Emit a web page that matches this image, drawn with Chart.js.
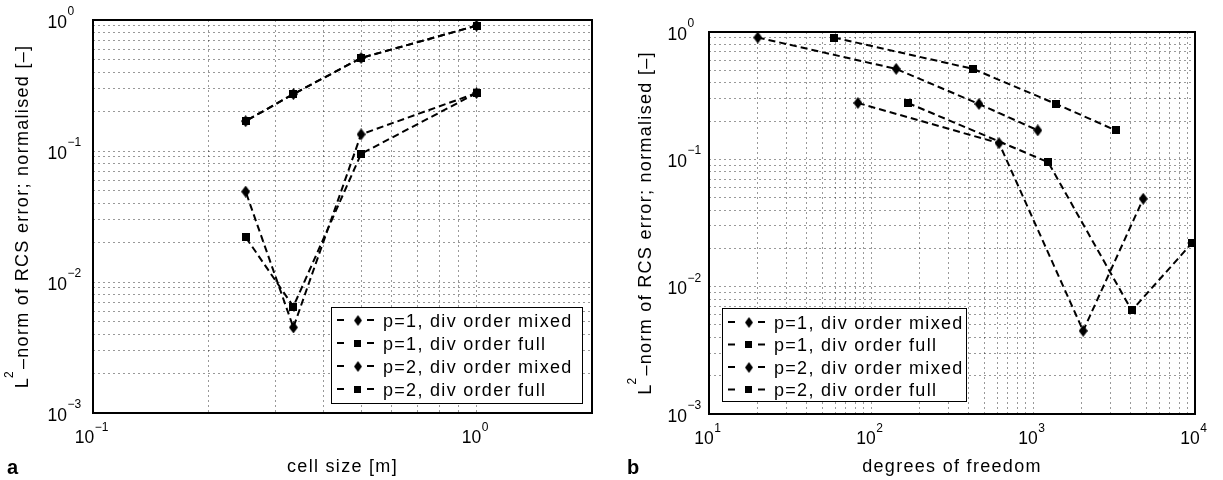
<!DOCTYPE html>
<html>
<head>
<meta charset="utf-8">
<script src="https://cdn.jsdelivr.net/npm/chart.js@4.4.1/dist/chart.umd.min.js"></script>
<style>
  html, body { margin: 0; padding: 0; background: #fff; }
  #wrap { position: relative; width: 1223px; height: 480px; overflow: hidden; }
  canvas { position: absolute; top: 0; }
  #cA { left: 0; }
  #cB { left: 611px; }
</style>
</head>
<body>
<div id="wrap">
  <canvas id="cA" width="611" height="480"></canvas>
  <canvas id="cB" width="612" height="480"></canvas>
</div>
<script>
// ---------------- data ----------------
const seriesLabels = ['p=1, div order mixed', 'p=1, div order full', 'p=2, div order mixed', 'p=2, div order full'];
const cellSize   = [1, 0.5, 0.333, 0.25];
const errP1Mixed = [0.905, 0.513, 0.272, 0.169];
const errP1Full  = [0.905, 0.513, 0.272, 0.169];
const errP2Mixed = [0.277, 0.134, 0.0045, 0.049];
const errP2Full  = [0.277, 0.095, 0.0065, 0.022];
const dofP1Mixed = [20, 143, 464, 1070];
const dofP1Full  = [59, 427, 1390, 3240];
const dofP2Mixed = [83, 617, 2040, 4790];
const dofP2Full  = [169, 1240, 4070, 9580];

const yTicks        = [0.001, 0.01, 0.1, 1];
const yTickExp      = ['\u22123', '\u22122', '\u22121', '0'];
const leftXTicks    = [0.1, 1];
const leftXTickExp  = ['\u22121', '0'];
const rightXTicks   = [10, 100, 1000, 10000];
const rightXTickExp = ['1', '2', '3', '4'];

const leftXTitle  = 'cell size [m]';
const rightXTitle = 'degrees of freedom';
const yTitleParts = ['L', '2', '\u2013norm of RCS error; normalised [\u2013]'];
const panelLetters = ['a', 'b'];

// ---------------- styling helpers ----------------
const FONT = "'Liberation Sans', Arial, Helvetica, sans-serif";
const GRID = 'rgba(0,0,0,0.40)';

function makeMarker(kind, w, h) {
  const c = document.createElement('canvas');
  c.width = w; c.height = h;
  const g = c.getContext('2d');
  g.fillStyle = '#000';
  g.beginPath();
  if (kind === 'diamond') {
    g.moveTo(w / 2, 0); g.lineTo(w, h / 2); g.lineTo(w / 2, h); g.lineTo(0, h / 2);
  } else {
    g.rect(0, 0, w, h);
  }
  g.closePath(); g.fill();
  return c;
}
const diamond = makeMarker('diamond', 9, 12);
const square  = makeMarker('square', 8, 8);
const markers = [diamond, square, diamond, square];

function gridValues(minExp, maxExp) {
  const out = [];
  for (let e = minExp; e < maxExp; e++) {
    for (let s = 1; s <= 9; s++) out.push(s * Math.pow(10, e));
  }
  out.push(Math.pow(10, maxExp));
  return out;
}

function setSpacing(ctx, v) { try { ctx.letterSpacing = v; } catch (e) {} }

// draws "10" with a superscript exponent; align: 'base-right' (x = right edge of "10") or 'center'
function drawPow(ctx, exp, x, yBase, yExp, align) {
  ctx.font = '17.5px ' + FONT;
  const wb = ctx.measureText('10').width;
  ctx.font = '12px ' + FONT;
  const we = ctx.measureText(exp).width;
  const total = wb + we + 0.5;
  const x0 = align === 'base-right' ? x - wb : x - total / 2;
  ctx.textAlign = 'left'; ctx.textBaseline = 'alphabetic';
  ctx.font = '17.5px ' + FONT;
  ctx.fillText('10', x0, yBase);
  ctx.font = '12px ' + FONT;
  ctx.fillText(exp, x0 + wb + 0.5, yExp);
}

function makeDatasets(xsList, ysList) {
  return seriesLabels.map((lab, i) => ({
    label: lab,
    data: xsList[i].map((x, k) => ({ x: x, y: ysList[i][k] })),
    borderColor: '#000',
    backgroundColor: '#000',
    borderWidth: 2,
    borderDash: [7, 4],
    pointStyle: markers[i],
    pointRadius: 6,
    pointHoverRadius: 6,
    showLine: true,
    fill: false,
    tension: 0,
    clip: 10
  }));
}

function decoPlugin(cfg) {
  return {
    id: 'deco',
    afterDraw(chart) {
      const ctx = chart.ctx;
      const a = chart.chartArea;
      const xs = chart.scales.x, ys = chart.scales.y;
      ctx.save();
      // frame
      ctx.setLineDash([]);
      ctx.strokeStyle = '#000'; ctx.lineWidth = 2;
      ctx.strokeRect(a.left, a.top, a.right - a.left, a.bottom - a.top);
      ctx.fillStyle = '#000';
      // y tick labels
      setSpacing(ctx, '0px');
      yTicks.forEach((v, i) => {
        const py = ys.getPixelForValue(v);
        drawPow(ctx, yTickExp[i], a.left - cfg.yTickGap, py + 7.5, py - 5, 'base-right');
      });
      // x tick labels
      cfg.xTicks.forEach((v, i) => {
        const px = xs.getPixelForValue(v);
        drawPow(ctx, cfg.xTickExp[i], px - 1.5, a.bottom + 30, a.bottom + 18, 'center');
      });
      // x title
      setSpacing(ctx, '1.3px');
      ctx.font = '18px ' + FONT;
      ctx.textAlign = 'center'; ctx.textBaseline = 'alphabetic';
      ctx.fillText(cfg.xTitle, (a.left + a.right) / 2, 472);
      // y title (rotated, with superscript)
      ctx.save();
      ctx.translate(cfg.yTitleX, (a.top + a.bottom) / 2);
      ctx.rotate(-Math.PI / 2);
      ctx.textAlign = 'left';
      ctx.font = '18px ' + FONT;
      const wL = ctx.measureText(yTitleParts[0]).width;
      const wR = ctx.measureText(yTitleParts[2]).width;
      ctx.font = '12px ' + FONT;
      const w2 = ctx.measureText(yTitleParts[1]).width;
      const tot = wL + w2 + wR;
      let x0 = -tot / 2;
      ctx.font = '18px ' + FONT;
      ctx.fillText(yTitleParts[0], x0, 0);
      ctx.font = '12px ' + FONT;
      ctx.fillText(yTitleParts[1], x0 + wL - 1, -15);
      ctx.font = '18px ' + FONT;
      ctx.fillText(yTitleParts[2], x0 + wL + w2, 0);
      ctx.restore();
      // panel letter
      setSpacing(ctx, '0px');
      ctx.font = 'bold 20px ' + FONT;
      ctx.textAlign = 'left';
      ctx.fillText(cfg.letter, cfg.letterX, 474);
      // legend
      const b = cfg.legend;
      ctx.fillStyle = '#fff';
      ctx.fillRect(b.x, b.y, b.w, b.h);
      ctx.strokeStyle = '#000'; ctx.lineWidth = 1;
      ctx.strokeRect(b.x + 0.5, b.y + 0.5, b.w, b.h);
      chart.data.datasets.forEach((ds, i) => {
        const cy = b.y + b.rowStart + i * b.rowGap;
        ctx.strokeStyle = '#000'; ctx.lineWidth = 2;
        ctx.beginPath();
        ctx.moveTo(b.x + 6, cy); ctx.lineTo(b.x + 13, cy);
        ctx.moveTo(b.x + 36, cy); ctx.lineTo(b.x + 43, cy);
        ctx.stroke();
        const img = ds.pointStyle;
        const mw = img === diamond ? 8 : 7, mh = img === diamond ? 11 : 7;
        ctx.drawImage(img, Math.round(b.x + 26.5 - mw / 2), Math.round(cy - mh / 2), mw, mh);
        ctx.fillStyle = '#000';
        setSpacing(ctx, '1.3px');
        ctx.font = '18px ' + FONT;
        ctx.textAlign = 'left'; ctx.textBaseline = 'alphabetic';
        ctx.fillText(ds.label, b.x + 52, cy + 6.5);
      });
      ctx.restore();
    }
  };
}

function buildChart(id, cfg) {
  const gx = cfg.gridX, gy = gridValues(-3, 0);
  return new Chart(document.getElementById(id), {
    type: 'scatter',
    data: { datasets: cfg.datasets },
    options: {
      responsive: false,
      animation: false,
      events: [],
      layout: { padding: cfg.padding },
      plugins: { legend: { display: false }, tooltip: { enabled: false } },
      scales: {
        x: {
          type: 'logarithmic', min: cfg.xMin, max: cfg.xMax,
          afterBuildTicks: ax => { ax.ticks = gx.map(v => ({ value: v })); },
          ticks: { display: false },
          grid: { color: GRID, lineWidth: 1, drawTicks: false },
          border: { display: false, dash: [2, 3] }
        },
        y: {
          type: 'logarithmic', min: 0.001, max: 1,
          afterBuildTicks: ax => { ax.ticks = gy.map(v => ({ value: v })); },
          ticks: { display: false },
          grid: { color: GRID, lineWidth: 1, drawTicks: false },
          border: { display: false, dash: [2, 3] }
        }
      }
    },
    plugins: [decoPlugin(cfg)]
  });
}

const leftGridX = gridValues(-1, 0).concat([2]);
buildChart('cA', {
  datasets: makeDatasets([cellSize, cellSize, cellSize, cellSize], [errP1Mixed, errP1Full, errP2Mixed, errP2Full]),
  padding: { left: 93, top: 20, right: 19, bottom: 67 },
  xMin: 0.1, xMax: 2, gridX: leftGridX,
  xTicks: leftXTicks, xTickExp: leftXTickExp,
  xTitle: leftXTitle, yTitleX: 28, yTickGap: 26,
  letter: panelLetters[0], letterX: 7,
  legend: { x: 331, y: 307, w: 251, h: 96, rowStart: 13, rowGap: 23 }
});

buildChart('cB', {
  datasets: makeDatasets([dofP1Mixed, dofP1Full, dofP2Mixed, dofP2Full], [errP1Mixed, errP1Full, errP2Mixed, errP2Full]),
  padding: { left: 98, top: 32, right: 28, bottom: 66 },
  xMin: 10, xMax: 10000, gridX: gridValues(1, 4),
  xTicks: rightXTicks, xTickExp: rightXTickExp,
  xTitle: rightXTitle, yTitleX: 40, yTickGap: 22,
  letter: panelLetters[1], letterX: 16,
  legend: { x: 111, y: 308, w: 244, h: 93, rowStart: 14, rowGap: 22.5 }
});
</script>
</body>
</html>
